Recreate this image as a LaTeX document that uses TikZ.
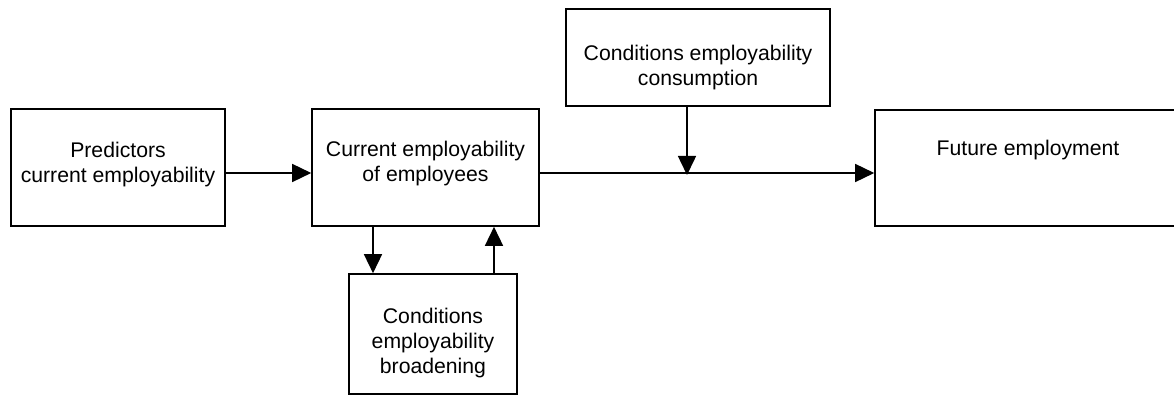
\documentclass[tikz,border=0pt]{standalone}
\usepackage{fontspec}
\setmainfont{Liberation Sans}
\usetikzlibrary{arrows.meta}
\begin{document}
\begin{tikzpicture}[x=1pt,y=1pt,
  box/.style={draw, line width=1.6pt, rectangle, inner sep=0pt},
  label text/.style={anchor=north, inner sep=0pt, align=center,
    font=\fontsize{21.2}{25}\selectfont},
  arr/.style={line width=1.5pt, -{Triangle[length=19pt,width=18pt]}}]
\clip (0,0) rectangle (1174,396);

% boxes
\node[box, minimum width=214pt, minimum height=117pt] (pred) at (118,228.5) {};
\node[box, minimum width=227pt, minimum height=117pt] (cur) at (425.5,228.5) {};
\node[box, minimum width=264pt, minimum height=97pt] (cons) at (698,338.5) {};
\node[box, minimum width=306pt, minimum height=116pt] (fut) at (1028,228) {};
\node[box, minimum width=168pt, minimum height=120pt] (broad) at (433,62) {};

% box texts
\node[label text] (predT) at ([yshift=-34]pred.north) {Predictors\\current employability};
\node[label text] (curT) at ([yshift=-33]cur.north) {Current employability\\of employees};
\node[label text] (consT) at ([yshift=-37]cons.north) {Conditions employability\\consumption};
\node[label text] (futT) at ([yshift=-31]fut.north) {Future employment};
\node[label text] (broadT) at ([yshift=-35]broad.north) {Conditions\\employability\\broadening};

% connectors
\coordinate (predOut) at ([yshift=-5.5]pred.east);
\draw[arr] (predOut) -- (predOut -| cur.west);
\coordinate (curOut) at ([yshift=-5.5]cur.east);
\draw[arr] (curOut) -- (curOut -| fut.west);
\coordinate (join) at ([xshift=-11]cons.south |- curOut);
\draw[arr] ([xshift=-11]cons.south) -- ([yshift=-2]join);
\coordinate (downTop) at ([xshift=-52.5]cur.south);
\draw[arr] (downTop) -- (downTop |- broad.north);
\coordinate (upBot) at ([xshift=61]broad.north);
\draw[arr] (upBot) -- (upBot |- cur.south);
\end{tikzpicture}
\end{document}
